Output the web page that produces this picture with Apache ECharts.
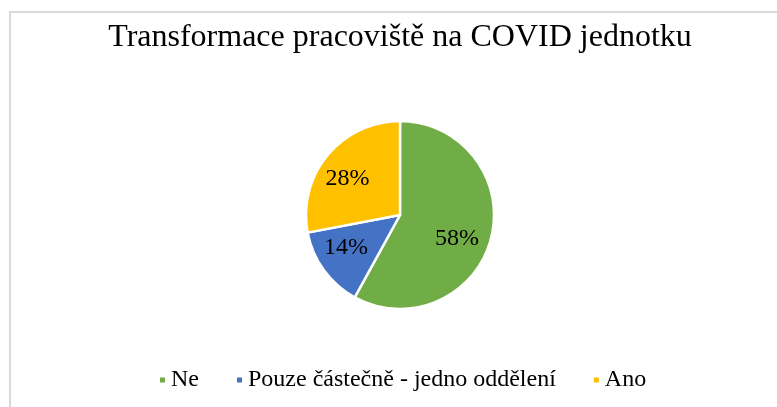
<!DOCTYPE html>
<html>
<head>
<meta charset="utf-8">
<script src="https://cdn.jsdelivr.net/npm/echarts@6/dist/echarts.min.js"></script>
<style>
  html, body { margin: 0; padding: 0; background: #fff; }
  #chart-container { width: 777px; height: 407px; }
</style>
</head>
<body>
<div id="chart-container"></div>
<script>
var dom = document.getElementById("chart-container");
var myChart = echarts.init(dom, null, { renderer: "canvas" });

var chart_title = "Transformace pracoviště na COVID jednotku";
var categories = ["Ne", "Pouze částečně - jedno oddělení", "Ano"];
var values = [58, 14, 28];
var colors = ["#70AD47", "#4472C4", "#FFC000"];
// small nudges so the labels sit where the original puts them
var labelNudge = [[-4, 8], [-3, -4], [-4, 4]];

var font = "'Liberation Serif', 'Times New Roman', serif";

var data = categories.map(function (name, i) {
  return { name: name, value: values[i], itemStyle: { color: colors[i] } };
});

var option = {
  animation: false,
  title: {
    text: chart_title,
    left: 395,
    textAlign: "center",
    top: 17,
    textStyle: {
      fontFamily: font,
      fontSize: 32,
      fontWeight: "normal",
      color: "#000",
    },
  },
  legend: {
    bottom: 10,
    left: 153,
    icon: "rect",
    itemWidth: 7,
    itemHeight: 7,
    itemGap: 36,
    data: categories,
    textStyle: {
      fontFamily: font,
      fontSize: 24,
      color: "#000",
    },
  },
  graphic: [
    {
      type: "rect",
      shape: { x: 10, y: 12, width: 800, height: 500 },
      style: { fill: "none", stroke: "#d9d9d9", lineWidth: 2 },
      silent: true,
    },
  ],
  series: [
    {
      name: "slices",
      type: "pie",
      center: [400, 215],
      radius: [0, 94],
      startAngle: 90,
      label: { show: false },
      labelLine: { show: false },
      itemStyle: { borderColor: "#fff", borderWidth: 2.5 },
      data: data,
    },
    {
      // invisible ring used only to place the labels at ~0.64 radius
      name: "labels",
      type: "pie",
      center: [400, 215],
      radius: [26, 94],
      startAngle: 90,
      silent: true,
      itemStyle: { color: "transparent", borderWidth: 0 },
      label: {
        show: true,
        position: "inside",
        formatter: "{c}%",
        fontFamily: font,
        fontSize: 24,
        color: "#000",
      },
      labelLine: { show: false },
      data: categories.map(function (name, i) {
        return { name: name, value: values[i], label: { offset: labelNudge[i] } };
      }),
    },
  ],
};

myChart.setOption(option);
window.addEventListener("resize", myChart.resize);
</script>
</body>
</html>
